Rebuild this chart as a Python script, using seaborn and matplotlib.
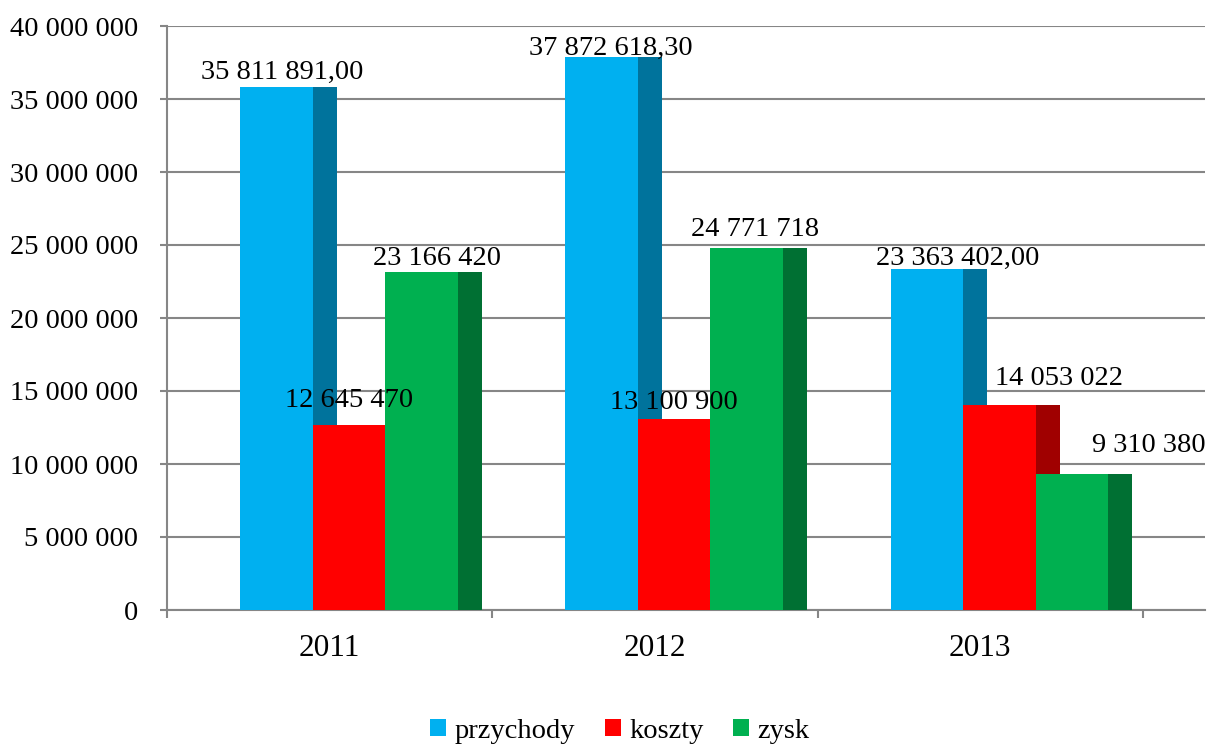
import pandas as pd
import matplotlib
matplotlib.use("Agg")
import matplotlib.pyplot as plt
from matplotlib.patches import Patch
from matplotlib.ticker import FuncFormatter
import seaborn as sns

# data
years = ["2011", "2012", "2013"]
series = ["przychody", "koszty", "zysk"]
przychody = [35811891.00, 37872618.30, 23363402.00]
koszty = [12645470, 13100900, 14053022]
zysk = [23166420, 24771718, 9310380]
decimals = {"przychody": 2, "koszty": 0, "zysk": 0}

front_colors = ["#00B0F0", "#FF0000", "#00B050"]
side_colors = ["#00739C", "#A00000", "#007033"]

sns.set_theme(style="white")
plt.rcParams["font.family"] = ["Liberation Serif", "DejaVu Serif"]
plt.rcParams["text.color"] = "black"
plt.rcParams["xtick.color"] = "black"
plt.rcParams["ytick.color"] = "black"
FS = 20.5

# long table, shifted so the group sits slightly right of the category centre
shift = 0.059
df = pd.DataFrame({
    "x": [i + shift for i in range(len(years))] * 3,
    "value": przychody + koszty + zysk,
    "seria": [s for s in series for _ in years],
})


def fmt_num(v, dec=0):
    s = f"{v:,.{dec}f}"
    return s.replace(",", " ").replace(".", ",")


fig = plt.figure(figsize=(12.08, 7.45), dpi=100)
ax = fig.add_axes([167 / 1208, 1 - 610 / 745, (1205 - 167) / 1208, (610 - 26) / 745])

sns.barplot(data=df, x="x", y="value", hue="seria", hue_order=series,
            palette=front_colors, native_scale=True, width=0.669, dodge=True,
            saturation=1, legend=False, errorbar=None, linewidth=0, ax=ax)
fronts = list(ax.containers)

# fake 3D: darker side face for each bar
depth = 0.074
for k, cont in enumerate(fronts):
    for bar in cont:
        bar.set_zorder(3 + k)
        bar.set_linewidth(0)
        ax.bar(bar.get_x() + bar.get_width(), bar.get_height(), width=depth,
               align="edge", color=side_colors[k], linewidth=0, zorder=3 + k)

# data labels (pixel offsets from the top centre of each front face)
label_offsets = {
    "przychody": [(6, 8), (9, 2), (31, 4)],
    "koszty": [(0, 18), (0, 10), (60, 20)],
    "zysk": [(16, 7), (8, 12), (77, 22)],
}
vals = {"przychody": przychody, "koszty": koszty, "zysk": zysk}
for k, (s, cont) in enumerate(zip(series, fronts)):
    for i, bar in enumerate(cont):
        dx, dy = label_offsets[s][i]
        ax.annotate(fmt_num(vals[s][i], decimals[s]),
                    (bar.get_x() + bar.get_width() / 2, bar.get_height()),
                    xytext=(dx, dy), textcoords="offset pixels",
                    ha="center", va="baseline", fontsize=FS, color="black",
                    zorder=10)

# axes styling
grid_c = "#868686"
ax.set_ylim(0, 40000000)
ax.set_xlim(-0.5, -0.5 + (1205 - 167) / 325.3)
ax.set_yticks(range(0, 40000001, 5000000))
ax.yaxis.set_major_formatter(FuncFormatter(lambda v, p: fmt_num(v)))
ax.yaxis.grid(True, color=grid_c, linewidth=1.5)
ax.set_axisbelow(True)

ax.set_xticks(range(len(years)))
ax.set_xticklabels(years, fontsize=22.5, color="black")
ax.set_xticks([-0.5, 0.5, 1.5, 2.5], minor=True)
ax.tick_params(axis="x", which="major", length=0, pad=17)
ax.tick_params(axis="x", which="minor", length=6, width=1.5, color=grid_c,
               direction="out", bottom=True)
ax.tick_params(axis="y", length=5, width=1.5, color=grid_c, direction="out",
               left=True, pad=16, labelsize=FS, labelcolor="black")
ax.set_xlabel("")
ax.set_ylabel("")

for side in ["top", "right"]:
    ax.spines[side].set_visible(False)
for side in ["left", "bottom"]:
    ax.spines[side].set_color(grid_c)
    ax.spines[side].set_linewidth(1.5)

handles = [Patch(facecolor=c, edgecolor="none", label=s)
           for c, s in zip(front_colors, series)]
leg = fig.legend(handles=handles, loc="center", bbox_to_anchor=(620 / 1208, 1 - 731 / 745),
                 ncol=3, frameon=False, fontsize=FS, handlelength=0.55, handleheight=0.55,
                 handletextpad=0.3, columnspacing=1.05, borderaxespad=0, borderpad=0)
for t in leg.get_texts():
    t.set_color("black")

fig.savefig("out.png", dpi=100)
